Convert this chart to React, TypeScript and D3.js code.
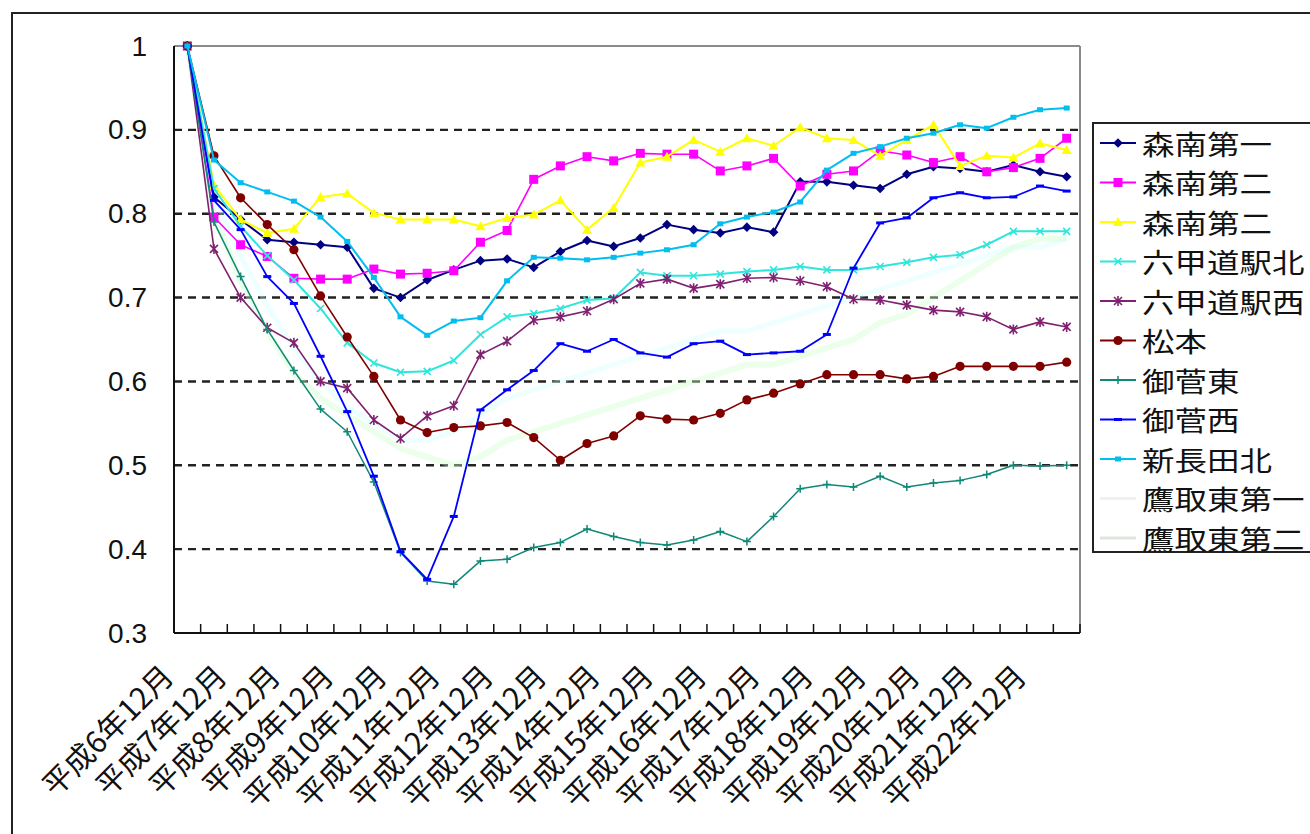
import React from 'react';
import * as d3 from 'd3';

const categories = [
  '平成6年12月', '平成7年6月', '平成7年12月', '平成8年6月', '平成8年12月', '平成9年6月',
  '平成9年12月', '平成10年6月', '平成10年12月', '平成11年6月', '平成11年12月', '平成12年6月',
  '平成12年12月', '平成13年6月', '平成13年12月', '平成14年6月', '平成14年12月', '平成15年6月',
  '平成15年12月', '平成16年6月', '平成16年12月', '平成17年6月', '平成17年12月', '平成18年6月',
  '平成18年12月', '平成19年6月', '平成19年12月', '平成20年6月', '平成20年12月', '平成21年6月',
  '平成21年12月', '平成22年6月', '平成22年12月', '平成23年6月',
];

const yTicks = [1, 0.9, 0.8, 0.7, 0.6, 0.5, 0.4, 0.3];
const gridValues = [0.9, 0.8, 0.7, 0.6, 0.5, 0.4];

const moriminami1 = [1.0, 0.82, 0.793, 0.769, 0.766, 0.763, 0.760, 0.711, 0.700, 0.721, 0.733, 0.744, 0.746, 0.736, 0.755, 0.768, 0.761, 0.771, 0.787, 0.781, 0.777, 0.784, 0.778, 0.838, 0.838, 0.834, 0.830, 0.847, 0.856, 0.854, 0.850, 0.858, 0.850, 0.844];
const moriminami2a = [1.0, 0.796, 0.763, 0.749, 0.723, 0.722, 0.722, 0.734, 0.728, 0.729, 0.732, 0.766, 0.780, 0.841, 0.857, 0.868, 0.863, 0.872, 0.871, 0.871, 0.851, 0.857, 0.866, 0.833, 0.847, 0.851, 0.875, 0.870, 0.861, 0.868, 0.850, 0.855, 0.866, 0.890];
const moriminami2b = [1.0, 0.834, 0.793, 0.777, 0.782, 0.820, 0.824, 0.801, 0.793, 0.793, 0.793, 0.785, 0.795, 0.799, 0.816, 0.781, 0.807, 0.861, 0.868, 0.888, 0.874, 0.890, 0.881, 0.903, 0.890, 0.888, 0.869, 0.888, 0.906, 0.857, 0.869, 0.867, 0.884, 0.876];
const rokkomichiNorth = [1.0, 0.83, 0.785, 0.750, 0.721, 0.687, 0.646, 0.622, 0.611, 0.612, 0.625, 0.656, 0.677, 0.681, 0.687, 0.697, 0.699, 0.730, 0.726, 0.726, 0.728, 0.731, 0.733, 0.737, 0.733, 0.733, 0.737, 0.742, 0.748, 0.751, 0.763, 0.779, 0.779, 0.779];
const rokkomichiWest = [1.0, 0.758, 0.700, 0.664, 0.646, 0.600, 0.592, 0.554, 0.532, 0.559, 0.571, 0.632, 0.648, 0.673, 0.677, 0.684, 0.698, 0.717, 0.722, 0.711, 0.716, 0.723, 0.724, 0.720, 0.713, 0.698, 0.697, 0.691, 0.685, 0.683, 0.677, 0.662, 0.671, 0.665];
const matsumoto = [1.0, 0.869, 0.819, 0.787, 0.757, 0.702, 0.653, 0.606, 0.554, 0.539, 0.545, 0.547, 0.551, 0.533, 0.506, 0.526, 0.535, 0.559, 0.555, 0.554, 0.562, 0.578, 0.586, 0.597, 0.608, 0.608, 0.608, 0.603, 0.606, 0.618, 0.618, 0.618, 0.618, 0.623];
const misugaEast = [1.0, 0.79, 0.725, 0.662, 0.613, 0.567, 0.540, 0.480, 0.396, 0.362, 0.358, 0.386, 0.388, 0.402, 0.408, 0.424, 0.415, 0.408, 0.405, 0.411, 0.421, 0.409, 0.439, 0.472, 0.477, 0.474, 0.487, 0.474, 0.479, 0.482, 0.489, 0.500, 0.499, 0.500];
const misugaWest = [1.0, 0.816, 0.781, 0.725, 0.693, 0.630, 0.564, 0.487, 0.397, 0.364, 0.439, 0.566, 0.590, 0.613, 0.645, 0.636, 0.650, 0.634, 0.629, 0.645, 0.648, 0.632, 0.634, 0.636, 0.656, 0.735, 0.789, 0.795, 0.819, 0.825, 0.819, 0.820, 0.833, 0.827];
const shinnagataNorth = [1.0, 0.864, 0.837, 0.826, 0.815, 0.796, 0.767, 0.724, 0.677, 0.655, 0.672, 0.676, 0.720, 0.748, 0.747, 0.745, 0.748, 0.753, 0.757, 0.763, 0.788, 0.796, 0.802, 0.814, 0.852, 0.872, 0.880, 0.890, 0.896, 0.906, 0.902, 0.915, 0.924, 0.926];
const takatoriEast1 = [1.0, 0.82, 0.75, 0.69, 0.64, 0.60, 0.57, 0.55, 0.53, 0.53, 0.54, 0.56, 0.58, 0.59, 0.60, 0.61, 0.62, 0.63, 0.64, 0.65, 0.66, 0.66, 0.67, 0.68, 0.69, 0.70, 0.71, 0.72, 0.73, 0.74, 0.75, 0.76, 0.76, 0.77];
const takatoriEast2 = [1.0, 0.80, 0.72, 0.66, 0.61, 0.58, 0.56, 0.54, 0.52, 0.51, 0.50, 0.51, 0.53, 0.54, 0.55, 0.56, 0.57, 0.58, 0.59, 0.60, 0.61, 0.62, 0.62, 0.63, 0.64, 0.65, 0.67, 0.68, 0.70, 0.72, 0.74, 0.76, 0.77, 0.77];

const seriesNames = ['森南第一', '森南第二', '森南第二', '六甲道駅北', '六甲道駅西', '松本', '御菅東', '御菅西', '新長田北', '鷹取東第一', '鷹取東第二'];
const seriesValues = [moriminami1, moriminami2a, moriminami2b, rokkomichiNorth, rokkomichiWest, matsumoto, misugaEast, misugaWest, shinnagataNorth, takatoriEast1, takatoriEast2];
const seriesColors = ['#000080', '#FF00FF', '#FFFF00', '#2EE6DC', '#802070', '#800000', '#108878', '#0000FF', '#00BFF0', '#CCFFFF', '#CCFFCC'];
const seriesMarkers = ['diamond', 'square', 'triangle', 'x', 'star', 'circle', 'plus', 'dash', 'smallsquare', 'none', 'none'];
const seriesWidths = [2, 1.6, 2, 2, 1.6, 1.6, 1.5, 1.8, 2, 5, 6];
const seriesOpacity = [1, 1, 1, 1, 1, 1, 1, 1, 1, 0.35, 0.4];

const W = 1310;
const H = 834;
const plot = { left: 174, right: 1080, top: 46, bottom: 633 };
const cjk = '"Noto Sans CJK JP", "Noto Sans", sans-serif';
const latin = '"Liberation Sans", Arial, sans-serif';

function Marker({ type, x, y, color }: { type: string; x: number; y: number; color: string }) {
  switch (type) {
    case 'diamond':
      return <path d={`M${x},${y - 4.8}L${x + 4.8},${y}L${x},${y + 4.8}L${x - 4.8},${y}Z`} fill={color} />;
    case 'square':
      return <rect x={x - 4.5} y={y - 4.5} width={9} height={9} fill={color} />;
    case 'smallsquare':
      return <rect x={x - 3} y={y - 2.5} width={6} height={5} fill={color} />;
    case 'triangle':
      return <path d={`M${x},${y - 5}L${x + 5},${y + 4}L${x - 5},${y + 4}Z`} fill={color} />;
    case 'circle':
      return <circle cx={x} cy={y} r={4.6} fill={color} />;
    case 'x':
      return <path d={`M${x - 3.5},${y - 3.5}L${x + 3.5},${y + 3.5}M${x - 3.5},${y + 3.5}L${x + 3.5},${y - 3.5}`} stroke={color} strokeWidth={1.6} fill="none" />;
    case 'star':
      return <path d={`M${x - 4},${y - 4}L${x + 4},${y + 4}M${x - 4},${y + 4}L${x + 4},${y - 4}M${x},${y - 5}L${x},${y + 5}`} stroke={color} strokeWidth={1.6} fill="none" />;
    case 'plus':
      return <path d={`M${x - 4},${y}L${x + 4},${y}M${x},${y - 4}L${x},${y + 4}`} stroke={color} strokeWidth={1.5} fill="none" />;
    case 'dash':
      return <rect x={x - 4} y={y - 1.5} width={8} height={3} fill={color} />;
    default:
      return null;
  }
}

export default function App() {
  const x = d3.scaleBand<string>().domain(categories).range([plot.left, plot.right]).paddingInner(0).paddingOuter(0);
  const bw = x.bandwidth();
  const cx = (c: string) => (x(c) as number) + bw / 2;
  const y = d3.scaleLinear().domain([0.3, 1]).range([plot.bottom, plot.top]);

  const line = d3
    .line<number>()
    .x((_, i) => cx(categories[i]))
    .y((d) => y(d));

  const order = [9, 10, 0, 1, 2, 3, 4, 5, 6, 7, 8];
  const tickBoundaries = d3.range(categories.length + 1).map((i) => plot.left + i * bw);

  const legendX = 1093;
  const legendY = 123;
  const rowH = 39.5;

  return (
    <svg width={W} height={H} style={{ position: 'absolute', left: 0, top: 0, background: '#fff' }}>
      <rect x={0} y={0} width={W} height={H} fill="#fff" />
      {/* outer chart frame */}
      <rect x={12} y={13} width={1400} height={900} fill="none" stroke="#222" strokeWidth={2} />

      {/* plot area frame (top & right gray) */}
      <line x1={plot.left} y1={plot.top} x2={plot.right} y2={plot.top} stroke="#8a8a8a" strokeWidth={2} />
      <line x1={plot.right} y1={plot.top} x2={plot.right} y2={plot.bottom} stroke="#8a8a8a" strokeWidth={2} />

      {/* gridlines */}
      {gridValues.map((v) => (
        <line key={v} x1={plot.left} x2={plot.right} y1={y(v)} y2={y(v)} stroke="#222" strokeWidth={2.4} strokeDasharray="8 6" />
      ))}

      {/* axes */}
      <line x1={plot.left} y1={plot.top} x2={plot.left} y2={plot.bottom} stroke="#111" strokeWidth={2} />
      <line x1={plot.left} y1={plot.bottom} x2={plot.right} y2={plot.bottom} stroke="#111" strokeWidth={2} />
      {tickBoundaries.map((tx, i) => (
        <line key={i} x1={tx} x2={tx} y1={plot.bottom} y2={plot.bottom - 9} stroke="#111" strokeWidth={1.5} />
      ))}

      {/* y tick labels */}
      {yTicks.map((v) => (
        <text key={v} x={147} y={y(v)} textAnchor="end" dominantBaseline="central" fontFamily={latin} fontSize={28} fill="#111">
          {String(v)}
        </text>
      ))}

      {/* x tick labels */}
      {categories.map((c, i) =>
        i % 2 === 0 ? (
          <text
            key={c}
            transform={`translate(${cx(c) - 21},${669}) rotate(-45)`}
            textAnchor="end"
            dominantBaseline="central"
            fontFamily={cjk}
            fontSize={30}
            fill="#111"
          >
            {c}
          </text>
        ) : null
      )}

      {/* series */}
      {order.map((si) => {
        const vals = seriesValues[si];
        const color = seriesColors[si];
        const marker = seriesMarkers[si];
        return (
          <g key={si} opacity={seriesOpacity[si]}>
            <path d={line(vals) || ''} fill="none" stroke={color} strokeWidth={seriesWidths[si]} strokeLinejoin="round" />
            {vals.map((v, i) => (
              <Marker key={i} type={marker} x={cx(categories[i])} y={y(v)} color={color} />
            ))}
          </g>
        );
      })}

      {/* legend */}
      <rect x={legendX} y={legendY} width={300} height={429} fill="#fff" stroke="#222" strokeWidth={2} />
      {seriesNames.map((name, i) => {
        const ry = legendY + 20 + i * rowH;
        return (
          <g key={i}>
            <line x1={1100} x2={1136} y1={ry} y2={ry} stroke={i >= 9 ? '#dde6dd' : seriesColors[i]} strokeWidth={i >= 9 ? 3 : 2} opacity={i === 9 ? 0.5 : 1} />
            <Marker type={seriesMarkers[i]} x={1118} y={ry} color={seriesColors[i]} />
            <text
              x={1142}
              y={ry}
              dominantBaseline="central"
              fontFamily={cjk}
              fontSize={27}
              textLength={name.length * 32.5}
              lengthAdjust="spacingAndGlyphs"
              fill="#111"
            >
              {name}
            </text>
          </g>
        );
      })}
    </svg>
  );
}
